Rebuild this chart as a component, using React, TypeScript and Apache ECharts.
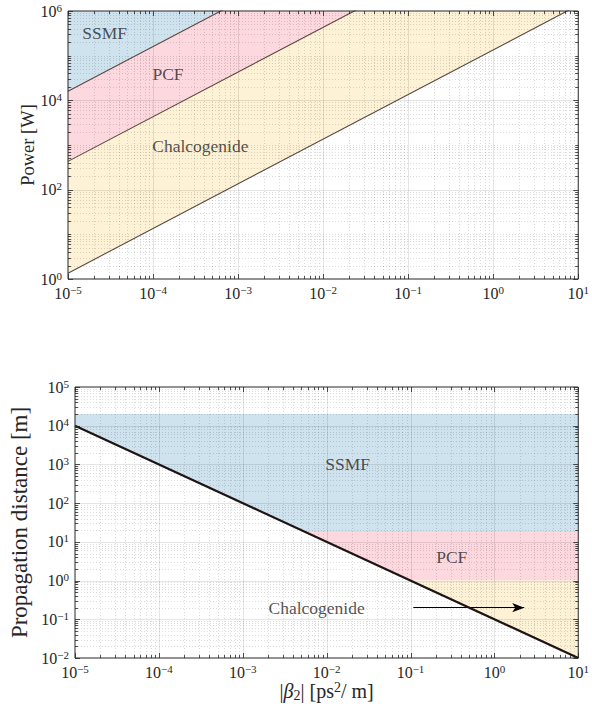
import React, { useEffect, useRef } from 'react';
import * as echarts from 'echarts';

// ---------- data ----------
const xRange = [1e-5, 1e1];
const topYRange = [1e0, 1e6];
const botYRange = [1e-2, 1e5];

// Top: power thresholds vs |beta2|
const lineX = [1e-5, 1e1];
const ssmfPower = [1.6e4, 1.6e10];
const pcfPower = [4.3e2, 4.3e8];
const chalcPower = [1.35, 1.35e6];

// Bottom: propagation distance vs |beta2|
const distX = [1e-5, 1e1];
const distance = [1e4, 1e-2];

const bandNames = ['SSMF', 'PCF', 'Chalcogenide'];
const bandLower = [18, 1, 1e-2];
const bandUpper = [2e4, 18, 1];

const topLabelX = [2.7e-5, 1.5e-4, 3.6e-4];
const topLabelY = [3.2e5, 3.9e4, 950];
const botLabelX = [0.0178, 0.31, 0.0076];
const botLabelY = [1000, 4.1, 0.195];
const arrowX = [0.108, 2.27];
const arrowY = [0.2, 0.2];

// ---------- styles ----------
const FONT = "'Liberation Serif', 'DejaVu Serif', serif";
const TXT = '#262626';
const BLUE = '#cfe3ef';
const PINK = '#fdd8de';
const YELLOW = '#fdf2d5';
const BAND_COLORS = [BLUE, PINK, YELLOW];

const expLabel = (step: number, base: number) => (v: number) => {
  const e = Math.round(Math.log10(v));
  if ((e - base) % step !== 0) return '';
  const s = e < 0 ? '\u2212' + -e : String(e);
  return '{b|10}{s|' + s + '}';
};

const labelRich = {
  b: { fontSize: 16, fontFamily: FONT, color: TXT },
  s: { fontSize: 11, fontFamily: FONT, color: TXT, verticalAlign: 'top', padding: [0, 0, 7, 0] },
};

function gridItems(xr: number[], yr: number[], yStep: number) {
  const items: number[][] = [];
  const x0 = Math.round(Math.log10(xr[0]));
  const x1 = Math.round(Math.log10(xr[1]));
  for (let e = x0; e <= x1; e++) {
    items.push([Math.pow(10, e), yr[0], 0, 1]);
    if (e < x1) for (let m = 2; m <= 9; m++) items.push([m * Math.pow(10, e), yr[0], 0, 0]);
  }
  const y0 = Math.round(Math.log10(yr[0]));
  const y1 = Math.round(Math.log10(yr[1]));
  for (let e = y0; e <= y1; e++) {
    items.push([xr[0], Math.pow(10, e), 1, (e - y0) % yStep === 0 ? 1 : 0]);
    if (e < y1) for (let m = 2; m <= 9; m++) items.push([xr[0], m * Math.pow(10, e), 1, 0]);
  }
  items.push([xr[0], yr[0], 2, 0]);
  return items;
}

const makeRender = (mode: 'grid' | 'ticks') => (params: any, api: any) => {
  const cs = params.coordSys;
  const kind = api.value(2);
  const major = api.value(3);
  const p = api.coord([api.value(0), api.value(1)]);
  const top = cs.y, bot = cs.y + cs.height, left = cs.x, right = cs.x + cs.width;
  if (kind === 2) {
    if (mode !== 'ticks') return null;
    return {
      type: 'rect',
      shape: { x: left, y: top, width: cs.width, height: cs.height },
      style: { fill: 'none', stroke: TXT, lineWidth: 1 },
    };
  }
  const children: any[] = [];
  const gStyle = major
    ? { stroke: 'rgba(0,0,0,0.10)', lineWidth: 1 }
    : { stroke: 'rgba(0,0,0,0.2)', lineWidth: 0.7, lineDash: [1, 2] };
  const tl = major ? 5 : 3;
  const tStyle = { stroke: TXT, lineWidth: 0.8 };
  if (kind === 0) {
    const x = Math.round(p[0]) + 0.5;
    if (mode === 'grid') {
      if (x > left + 1 && x < right - 1)
        children.push({ type: 'line', shape: { x1: x, y1: top, x2: x, y2: bot }, style: gStyle });
    } else {
      children.push({ type: 'line', shape: { x1: x, y1: bot, x2: x, y2: bot - tl }, style: tStyle });
      children.push({ type: 'line', shape: { x1: x, y1: top, x2: x, y2: top + tl }, style: tStyle });
    }
  } else {
    const y = Math.round(p[1]) + 0.5;
    if (mode === 'grid') {
      if (y > top + 1 && y < bot - 1)
        children.push({ type: 'line', shape: { x1: left, y1: y, x2: right, y2: y }, style: gStyle });
    } else {
      children.push({ type: 'line', shape: { x1: left, y1: y, x2: left + tl, y2: y }, style: tStyle });
      children.push({ type: 'line', shape: { x1: right, y1: y, x2: right - tl, y2: y }, style: tStyle });
    }
  }
  return { type: 'group', children };
};

const pairs = (xs: number[], ys: number[]) => xs.map((x, i) => [x, ys[i]]);

export default function App() {
  const ref = useRef<HTMLDivElement>(null);
  useEffect(() => {
    if (!ref.current) return;
    const chart = echarts.init(ref.current, null, { renderer: 'svg' });

    const axisCommon = {
      type: 'log',
      logBase: 10,
      nameMoveOverlap: false,
      axisLine: { show: false },
      axisTick: { show: false },
      splitLine: { show: false },
      minorTick: { show: false },
      minorSplitLine: { show: false },
    };

    const lblStyle = (step: number, base: number, margin: number) => ({
      fontFamily: FONT,
      fontSize: 16,
      color: TXT,
      margin,
      formatter: expLabel(step, base),
      rich: labelRich,
    });

    const gridSeries = (gi: number, xr: number[], yr: number[], yStep: number) => [
      {
        type: 'custom',
        xAxisIndex: gi,
        yAxisIndex: gi,
        renderItem: makeRender('grid'),
        data: gridItems(xr, yr, yStep),
        encode: { x: 0, y: 1 },
        silent: true,
        z: 3,
      },
      {
        type: 'custom',
        xAxisIndex: gi,
        yAxisIndex: gi,
        renderItem: makeRender('ticks'),
        data: gridItems(xr, yr, yStep),
        encode: { x: 0, y: 1 },
        silent: true,
        z: 10,
      },
    ];

    const topFill = (ys: number[], color: string, z: number) => ({
      type: 'line',
      xAxisIndex: 0,
      yAxisIndex: 0,
      data: pairs(lineX, ys),
      symbol: 'none',
      lineStyle: { width: 0 },
      areaStyle: { color, opacity: 1, origin: 'end' },
      silent: true,
      z,
    });
    const topLine = (ys: number[]) => ({
      type: 'line',
      xAxisIndex: 0,
      yAxisIndex: 0,
      data: pairs(lineX, ys),
      symbol: 'none',
      lineStyle: { width: 1.1, color: '#5a4840' },
      silent: true,
      z: 5,
    });

    const textStyle = { fontFamily: FONT, fontSize: 17.5, color: TXT };

    const option: any = {
      animation: false,
      textStyle: { fontFamily: FONT },
      grid: [
        { left: 68, top: 11, width: 513, height: 268 },
        { left: 68, top: 387, width: 513, height: 271 },
      ],
      xAxis: [
        {
          ...axisCommon,
          gridIndex: 0,
          min: xRange[0],
          max: xRange[1],
          axisLabel: lblStyle(1, -5, 5),
        },
        {
          ...axisCommon,
          gridIndex: 1,
          min: xRange[0],
          max: xRange[1],
          axisLabel: lblStyle(1, -5, 5),
          name: '{t||}{it|\u03b2}{sub|2}{t|| [ps}{sup|2}{t|/ m]}',
          nameLocation: 'middle',
          nameGap: 22,
          nameTextStyle: {
            fontFamily: FONT,
            fontSize: 20,
            color: TXT,
            rich: {
              t: { fontFamily: FONT, fontSize: 20, color: TXT },
              it: { fontFamily: FONT, fontSize: 20, fontStyle: 'italic', color: TXT },
              sub: { fontFamily: FONT, fontSize: 14, color: TXT, verticalAlign: 'bottom', padding: [8, 0, 0, 0] },
              sup: { fontFamily: FONT, fontSize: 14, color: TXT, verticalAlign: 'top', padding: [0, 0, 8, 0] },
            },
          },
        },
      ],
      yAxis: [
        {
          ...axisCommon,
          gridIndex: 0,
          min: topYRange[0],
          max: topYRange[1],
          axisLabel: lblStyle(2, 0, 6),
          name: 'Power [W]',
          nameLocation: 'middle',
          nameGap: 31,
          nameTextStyle: { fontFamily: FONT, fontSize: 18.5, color: TXT },
        },
        {
          ...axisCommon,
          gridIndex: 1,
          min: botYRange[0],
          max: botYRange[1],
          axisLabel: lblStyle(1, -2, 6),
          name: 'Propagation distance [m]',
          nameLocation: 'middle',
          nameGap: 44,
          nameTextStyle: { fontFamily: FONT, fontSize: 23, color: TXT },
        },
      ],
      series: [
        topFill(chalcPower, YELLOW, 1),
        topFill(pcfPower, PINK, 1),
        topFill(ssmfPower, BLUE, 1),
        ...gridSeries(0, xRange, topYRange, 2),
        topLine(chalcPower),
        topLine(pcfPower),
        topLine(ssmfPower),
        {
          type: 'scatter',
          xAxisIndex: 0,
          yAxisIndex: 0,
          symbolSize: 1,
          itemStyle: { color: 'transparent' },
          data: bandNames.map((n, i) => ({ name: n, value: [topLabelX[i], topLabelY[i]] })),
          label: { show: true, position: 'inside', formatter: '{b}', ...textStyle },
          silent: true,
          z: 6,
        },
        {
          type: 'line',
          xAxisIndex: 1,
          yAxisIndex: 1,
          data: [],
          silent: true,
          z: 1,
          markArea: {
            silent: true,
            label: { show: false },
            data: bandNames.map((n, i) => [
              { yAxis: bandLower[i], itemStyle: { color: BAND_COLORS[i], opacity: 1 } },
              { yAxis: bandUpper[i] },
            ]),
          },
        },
        {
          type: 'line',
          xAxisIndex: 1,
          yAxisIndex: 1,
          data: pairs(distX, distance),
          symbol: 'none',
          lineStyle: { width: 0 },
          areaStyle: { color: '#ffffff', opacity: 1, origin: 'start' },
          silent: true,
          z: 2,
        },
        ...gridSeries(1, xRange, botYRange, 1),
        {
          type: 'line',
          xAxisIndex: 1,
          yAxisIndex: 1,
          data: pairs(distX, distance),
          symbol: 'none',
          lineStyle: { width: 2.2, color: '#1e1414' },
          silent: true,
          z: 5,
          markLine: {
            silent: true,
            symbol: ['none', 'arrow'],
            symbolSize: [7, 12],
            label: { show: false },
            lineStyle: { color: '#000', width: 1.2, type: 'solid' },
            data: [[{ coord: [arrowX[0], arrowY[0]] }, { coord: [arrowX[1], arrowY[1]] }]],
          },
        },
        {
          type: 'scatter',
          xAxisIndex: 1,
          yAxisIndex: 1,
          symbolSize: 1,
          itemStyle: { color: 'transparent' },
          data: bandNames.map((n, i) => ({ name: n, value: [botLabelX[i], botLabelY[i]] })),
          label: { show: true, position: 'inside', formatter: '{b}', ...textStyle },
          silent: true,
          z: 6,
        },
      ],
    };
    chart.setOption(option);
    return () => chart.dispose();
  }, []);
  return (
    <div
      ref={ref}
      style={{ position: 'absolute', left: 0, top: 0, width: 592, height: 710, background: '#fff' }}
    />
  );
}
